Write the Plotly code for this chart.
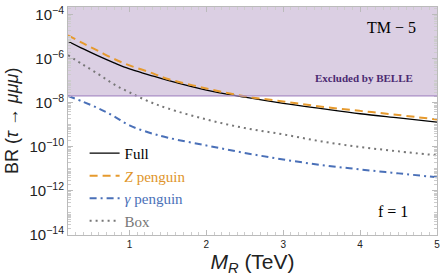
import plotly.graph_objects as go

# ---- data ----
m_r = [0.2, 0.4, 0.6, 0.8, 1.0, 1.25, 1.5, 2.0, 2.5, 3.0, 3.5, 4.0, 4.5, 5.0]
br_full = [6.38e-6, 2.85e-6, 1.33e-6, 6.61e-7, 3.51e-7, 1.91e-7, 1.05e-7,
           3.80e-8, 1.82e-8, 9.55e-9, 5.50e-9, 3.24e-9, 2.09e-9, 1.35e-9]
br_z = [1.19e-5, 5.07e-6, 2.24e-6, 1.0e-6, 5.07e-7, 2.57e-7, 1.23e-7,
        4.57e-8, 2.0e-8, 1.17e-8, 6.76e-9, 4.37e-9, 2.82e-9, 1.78e-9]
br_gamma = [2.09e-8, 1.12e-8, 5.62e-9, 2.45e-9, 9.55e-10, 4.57e-10, 2.63e-10,
            1.17e-10, 5.37e-11, 2.69e-11, 1.51e-11, 9.55e-12, 6.31e-12, 4.17e-12]
br_box = [1.48e-6, 5.37e-7, 2.0e-7, 6.92e-8, 3.02e-8, 1.17e-8, 5.62e-9,
          1.78e-9, 7.24e-10, 3.72e-10, 1.78e-10, 1.0e-10, 6.31e-11, 4.17e-11]
belle_limit = 2.1e-8

x_ticks = [1, 2, 3, 4, 5]
y_exps = [-14, -12, -10, -8, -6, -4]
y_ticks = [10.0 ** e for e in y_exps]
y_ticktext = ["10<sup>\u2212%d</sup>" % (-e) for e in y_exps]

minor_y = []
for e in range(-14, -3):
    for k in range(1, 10):
        v = k * 10.0 ** e
        if v not in y_ticks:
            minor_y.append(v)

fig = go.Figure()

fig.add_shape(type="rect", xref="paper", yref="y", x0=0, x1=1,
              y0=belle_limit, y1=1e-3, fillcolor="#dbcfe3",
              line=dict(width=0), layer="below")
fig.add_shape(type="line", xref="paper", yref="y", x0=0, x1=1,
              y0=belle_limit, y1=belle_limit,
              line=dict(color="#a88cc4", width=1.3))

fig.add_trace(go.Scatter(x=m_r, y=br_full, mode="lines", name="Full",
                         line=dict(color="black", width=1.3, shape="spline")))
fig.add_trace(go.Scatter(x=m_r, y=br_z, mode="lines",
                         name="<span style='color:#e0952a'><i>Z</i> penguin</span>",
                         line=dict(color="#e69a2e", width=2, dash="8px,5px", shape="spline")))
fig.add_trace(go.Scatter(x=m_r, y=br_gamma, mode="lines",
                         name="<span style='color:#4a70b8'><i>\u03b3</i> penguin</span>",
                         line=dict(color="#4a70b8", width=2, dash="7px,4px,2px,4px", shape="spline")))
fig.add_trace(go.Scatter(x=m_r, y=br_box, mode="lines",
                         name="<span style='color:#777777'>Box</span>",
                         line=dict(color="#777777", width=2, dash="2px,4px", shape="spline")))

fig.update_layout(
    width=441, height=278,
    margin=dict(l=68, r=4, t=7, b=43),
    paper_bgcolor="white", plot_bgcolor="white",
    showlegend=True,
    legend=dict(x=0.045, y=0.43, xanchor="left", yanchor="top",
                bgcolor="rgba(0,0,0,0)", font=dict(family="Liberation Serif", size=15, color="black"),
                tracegroupgap=0, itemwidth=30),
    font=dict(family="Liberation Sans"),
)

fig.update_xaxes(range=[0.2, 5], tickvals=x_ticks, ticktext=[str(v) for v in x_ticks],
                 automargin=False,
                 ticks="inside", ticklen=5, tickcolor="#bbbbbb",
                 showline=True, linecolor="#bbbbbb", linewidth=1, mirror="ticks",
                 showgrid=False, zeroline=False,
                 tickfont=dict(size=10, color="#222"),
                 minor=dict(ticks="inside", ticklen=3, dtick=0.1, tick0=0, tickcolor="#cccccc", showgrid=False),
                 title=dict(text="<i>M<sub>R</sub></i> (TeV)", font=dict(size=21, color="#222"), standoff=2))

fig.update_yaxes(type="log", range=[-14, -3.64], tickvals=y_ticks, ticktext=y_ticktext,
                 automargin=False,
                 ticks="inside", ticklen=5, tickcolor="#bbbbbb",
                 showline=True, linecolor="#bbbbbb", linewidth=1, mirror="ticks",
                 showgrid=False, zeroline=False,
                 tickfont=dict(size=15, color="#222"),
                 minor=dict(ticks="inside", ticklen=3, tickvals=minor_y, tickcolor="#cccccc", showgrid=False))

fig.add_annotation(xref="paper", yref="paper", x=-0.152, y=0.5, xanchor="center", yanchor="middle",
                   text="BR (<i>\u03c4</i> \u2192 <i>\u03bc\u03bc\u03bc</i>)", textangle=-90,
                   showarrow=False, font=dict(size=18, color="#222"))
fig.add_annotation(xref="paper", yref="paper", x=0.878, y=0.912, xanchor="center", yanchor="middle",
                   text="TM \u2212 5",
                   showarrow=False, font=dict(family="Liberation Serif", size=16, color="black"))
fig.add_annotation(xref="paper", yref="paper", x=0.802, y=0.689, xanchor="center", yanchor="middle",
                   text="<b>Excluded by BELLE</b>",
                   showarrow=False, font=dict(family="Liberation Serif", size=11, color="#4b2a72"))
fig.add_annotation(xref="paper", yref="paper", x=0.881, y=0.101, xanchor="center", yanchor="middle",
                   text="f = 1",
                   showarrow=False, font=dict(family="Liberation Serif", size=16, color="black"))

fig.write_html("out.html", post_script="document.body.style.margin='0';",
               config={"displayModeBar": False})
